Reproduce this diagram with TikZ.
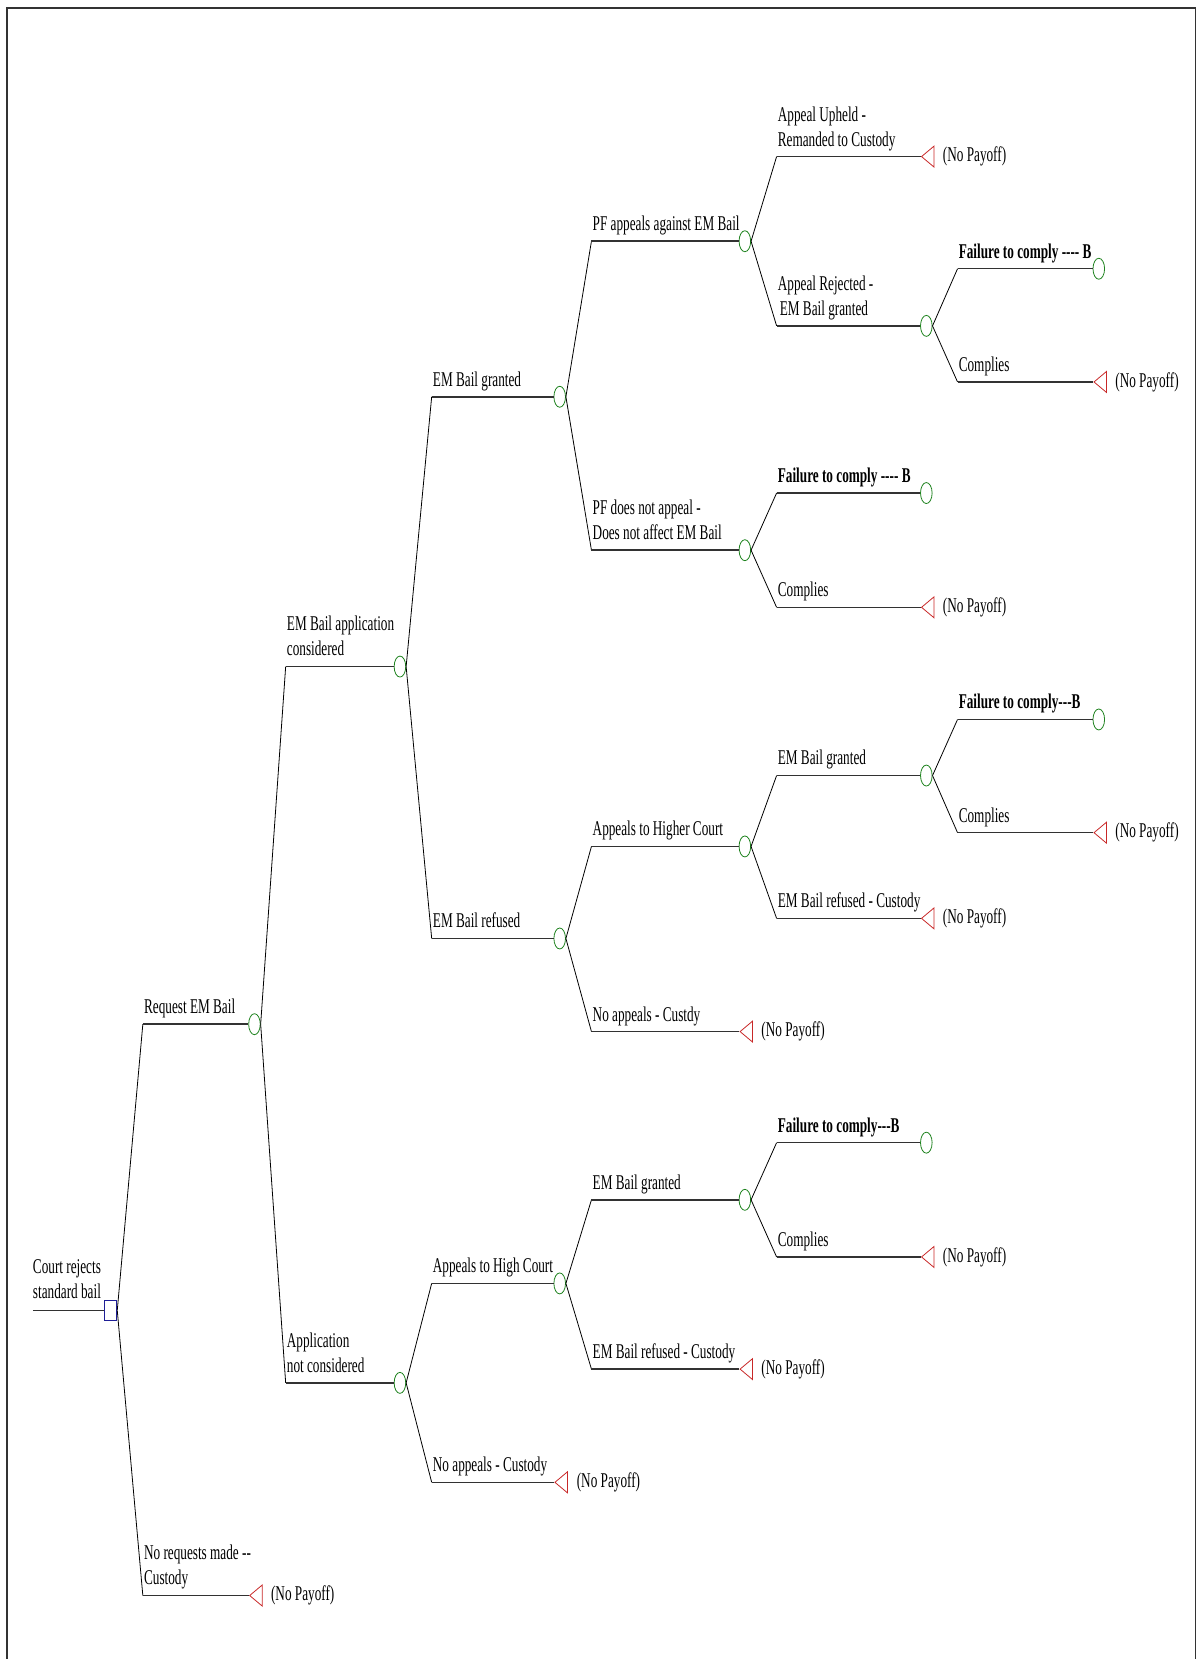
\documentclass[tikz,border=0pt]{standalone}
\usepackage{fontspec}
\setmainfont[FakeStretch=0.63]{Liberation Serif}
\usetikzlibrary{shapes.geometric}
\definecolor{cgreen}{RGB}{30,130,30}
\definecolor{tred}{RGB}{200,40,40}
\definecolor{dblue}{RGB}{30,30,150}
\definecolor{hline}{RGB}{50,50,50}
\newcommand\twoline[2]{\begin{tabular}[b]{@{}l@{}}#1\\#2\end{tabular}}
\begin{document}
\begin{tikzpicture}[x=1.0584pt,y=-1.0584pt,
 chance/.style={ellipse,draw=cgreen,line width=0.8pt,minimum width=11.6pt,minimum height=21pt,inner sep=0pt},
 term/.style={isosceles triangle,isosceles triangle stretches,shape border rotate=180,draw=tred,line width=0.8pt,minimum width=21pt,minimum height=12.5pt,inner sep=0pt,anchor=apex},
 dec/.style={rectangle,draw=dblue,line width=0.9pt,minimum width=12.5pt,minimum height=20pt,inner sep=0pt},
 diag/.style={draw=black,line width=0.8pt},
 horiz/.style={draw=hline,line width=1.5pt},
 lbl/.style={anchor=base west,inner sep=0pt,font=\fontsize{21}{25}\selectfont},
 bl/.style={anchor=base west,inner sep=0pt,font=\fontsize{21}{25}\selectfont\bfseries},
 pay/.style={anchor=west,inner sep=0pt,font=\fontsize{21}{25}\selectfont}]
\useasboundingbox (0,0) rectangle (1131,1568);
\draw[line width=1.8pt,black!80] (6.6,1575) -- (6.6,7.6) -- (1130,7.6) -- (1130,1575);

% root
\coordinate (r0) at (31,1238.5);
\node[dec] (sq) at (104.5,1238.5) {};
\draw[horiz] (r0) -- (sq.west);
\node[lbl] (lr) at (31,1227) {\twoline{Court rejects}{standard bail}};

% level 1
\coordinate (s1) at (135,968);
\node[chance] (n1) at (240.5,968) {};
\draw[diag] (sq.east) -- (s1); \draw[horiz] (s1) -- (n1.west);
\node[lbl] (l1) at (136,958) {Request EM Bail};
\coordinate (s1b) at (135,1508);
\node[term] (t1) at (235,1508) {};
\draw[diag] (sq.east) -- (s1b); \draw[horiz] (s1b) -- (t1.apex);
\node[lbl] (l1b) at (136,1498) {\twoline{No requests made -{}-}{Custody}};
\node[pay] (p1) at (256,1508) {(No Payoff)};

% level 2
\coordinate (s2) at (270,630);
\node[chance] (n2) at (378,630) {};
\draw[diag] (n1.east) -- (s2); \draw[horiz] (s2) -- (n2.west);
\node[lbl] (l2) at (271,620) {\twoline{EM Bail application}{considered}};
\coordinate (s3) at (270,1307);
\node[chance] (n3) at (378,1307) {};
\draw[diag] (n1.east) -- (s3); \draw[horiz] (s3) -- (n3.west);
\node[lbl] (l3) at (271,1297) {\twoline{Application}{not considered}};

% level 3
\coordinate (s4) at (408,375);
\node[chance] (n4) at (529,375) {};
\draw[diag] (n2.east) -- (s4); \draw[horiz] (s4) -- (n4.west);
\node[lbl] (l4) at (409,365) {EM Bail granted};
\coordinate (s5) at (408,887);
\node[chance] (n5) at (529,887) {};
\draw[diag] (n2.east) -- (s5); \draw[horiz] (s5) -- (n5.west);
\node[lbl] (l5) at (409,877) {EM Bail refused};
\coordinate (s6) at (408,1213);
\node[chance] (n6) at (529,1213) {};
\draw[diag] (n3.east) -- (s6); \draw[horiz] (s6) -- (n6.west);
\node[lbl] (l6) at (409,1203) {Appeals to High Court};
\coordinate (s6b) at (408,1401);
\node[term] (t6) at (523.5,1401) {};
\draw[diag] (n3.east) -- (s6b); \draw[horiz] (s6b) -- (t6.apex);
\node[lbl] (l6b) at (409,1391) {No appeals - Custody};
\node[pay] (p6) at (545,1401) {(No Payoff)};

% level 4
\coordinate (s7) at (559,228);
\node[chance] (n7) at (704,228) {};
\draw[diag] (n4.east) -- (s7); \draw[horiz] (s7) -- (n7.west);
\node[lbl] (l7) at (560,218) {PF appeals against EM Bail};
\coordinate (s8) at (559,520);
\node[chance] (n8) at (704,520) {};
\draw[diag] (n4.east) -- (s8); \draw[horiz] (s8) -- (n8.west);
\node[lbl] (l8) at (560,510) {\twoline{PF does not appeal -}{Does not affect EM Bail}};
\coordinate (s9) at (559,800);
\node[chance] (n9) at (704,800) {};
\draw[diag] (n5.east) -- (s9); \draw[horiz] (s9) -- (n9.west);
\node[lbl] (l9) at (560,790) {Appeals to Higher Court};
\coordinate (s9b) at (559,975);
\node[term] (t9) at (698.5,975) {};
\draw[diag] (n5.east) -- (s9b); \draw[horiz] (s9b) -- (t9.apex);
\node[lbl] (l9b) at (560,965) {No appeals - Custdy};
\node[pay] (p9) at (719.5,975) {(No Payoff)};
\coordinate (s10) at (559,1134);
\node[chance] (n10) at (704,1134) {};
\draw[diag] (n6.east) -- (s10); \draw[horiz] (s10) -- (n10.west);
\node[lbl] (l10) at (560,1124) {EM Bail granted};
\coordinate (s10b) at (559,1294);
\node[term] (t10) at (698.5,1294) {};
\draw[diag] (n6.east) -- (s10b); \draw[horiz] (s10b) -- (t10.apex);
\node[lbl] (l10b) at (560,1284) {EM Bail refused - Custody};
\node[pay] (p10) at (719.5,1294) {(No Payoff)};

% level 5
\coordinate (s11) at (734,148);
\node[term] (t11) at (870,148) {};
\draw[diag] (n7.east) -- (s11); \draw[horiz] (s11) -- (t11.apex);
\node[lbl] (l11) at (735,138.5) {\twoline{Appeal Upheld -}{Remanded to Custody}};
\node[pay] (p11) at (891,148) {(No Payoff)};
\coordinate (s12) at (734,308);
\node[chance] (n12) at (875.5,308) {};
\draw[diag] (n7.east) -- (s12); \draw[horiz] (s12) -- (n12.west);
\node[lbl] (l12) at (735,298) {\twoline{Appeal Rejected -}{\hspace{2pt}EM Bail granted}};
\coordinate (s13) at (734,466);
\node[chance] (n13) at (875.5,466) {};
\draw[diag] (n8.east) -- (s13); \draw[horiz] (s13) -- (n13.west);
\node[bl] (l13) at (735,456) {Failure to comply -{}-{}-{}- B};
\coordinate (s13b) at (734,574);
\node[term] (t13) at (870,574) {};
\draw[diag] (n8.east) -- (s13b); \draw[horiz] (s13b) -- (t13.apex);
\node[lbl] (l13b) at (735,564) {Complies};
\node[pay] (p13) at (891,574) {(No Payoff)};
\coordinate (s14) at (734,733);
\node[chance] (n14) at (875.5,733) {};
\draw[diag] (n9.east) -- (s14); \draw[horiz] (s14) -- (n14.west);
\node[lbl] (l14) at (735,723) {EM Bail granted};
\coordinate (s14b) at (734,868);
\node[term] (t14) at (870,868) {};
\draw[diag] (n9.east) -- (s14b); \draw[horiz] (s14b) -- (t14.apex);
\node[lbl] (l14b) at (735,858) {EM Bail refused - Custody};
\node[pay] (p14) at (891,868) {(No Payoff)};
\coordinate (s15) at (734,1080);
\node[chance] (n15) at (875.5,1080) {};
\draw[diag] (n10.east) -- (s15); \draw[horiz] (s15) -- (n15.west);
\node[bl] (l15) at (735,1070) {Failure to comply-{}-{}-B};
\coordinate (s15b) at (734,1188);
\node[term] (t15) at (870,1188) {};
\draw[diag] (n10.east) -- (s15b); \draw[horiz] (s15b) -- (t15.apex);
\node[lbl] (l15b) at (735,1178) {Complies};
\node[pay] (p15) at (891,1188) {(No Payoff)};

% level 6
\coordinate (s16) at (905,254);
\node[chance] (n16) at (1038.5,254) {};
\draw[diag] (n12.east) -- (s16); \draw[horiz] (s16) -- (n16.west);
\node[bl] (l16) at (906,244) {Failure to comply -{}-{}-{}- B};
\coordinate (s16b) at (905,361);
\node[term] (t16) at (1033,361) {};
\draw[diag] (n12.east) -- (s16b); \draw[horiz] (s16b) -- (t16.apex);
\node[lbl] (l16b) at (906,351) {Complies};
\node[pay] (p16) at (1054,361) {(No Payoff)};
\coordinate (s17) at (905,680);
\node[chance] (n17) at (1038.5,680) {};
\draw[diag] (n14.east) -- (s17); \draw[horiz] (s17) -- (n17.west);
\node[bl] (l17) at (906,670) {Failure to comply-{}-{}-B};
\coordinate (s17b) at (905,787);
\node[term] (t17) at (1033,787) {};
\draw[diag] (n14.east) -- (s17b); \draw[horiz] (s17b) -- (t17.apex);
\node[lbl] (l17b) at (906,777) {Complies};
\node[pay] (p17) at (1054,787) {(No Payoff)};
\end{tikzpicture}
\end{document}
